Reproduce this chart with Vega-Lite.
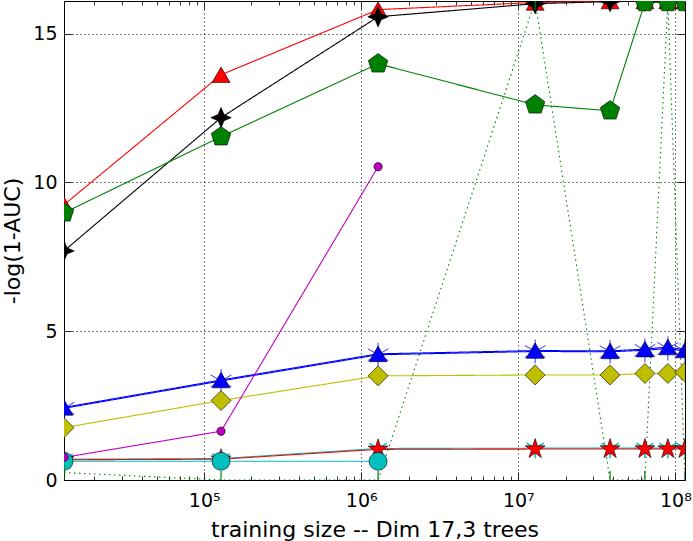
{
  "$schema": "https://vega.github.io/schema/vega-lite/v6.json",
  "width": 621,
  "height": 479,
  "autosize": {"type": "none"},
  "padding": {"left": 64, "top": 1, "right": 8, "bottom": 61},
  "background": "white",
  "config": {"view": {"stroke": "black", "strokeWidth": 1}, "font": "DejaVu Sans"},
  "data": {
    "values": [
      {"s": "rtri", "x": 12800, "y": 9.25}, {"s": "rtri", "x": 128000, "y": 13.62}, {"s": "rtri", "x": 1280000, "y": 15.81}, {"s": "rtri", "x": 12800000, "y": 16.05},
      {"s": "rtri", "x": 38400000, "y": 16.1}, {"s": "rtri", "x": 64000000, "y": 16.1}, {"s": "rtri", "x": 89600000, "y": 16.1}, {"s": "rtri", "x": 115200000, "y": 16.1},
      {"s": "kstar", "x": 12800, "y": 7.7}, {"s": "kstar", "x": 128000, "y": 12.18}, {"s": "kstar", "x": 1280000, "y": 15.57}, {"s": "kstar", "x": 12800000, "y": 16.01},
      {"s": "kstar", "x": 38400000, "y": 16.08}, {"s": "kstar", "x": 64000000, "y": 16.1}, {"s": "kstar", "x": 89600000, "y": 16.1}, {"s": "kstar", "x": 115200000, "y": 16.1},
      {"s": "gpent", "x": 12800, "y": 8.98}, {"s": "gpent", "x": 128000, "y": 11.54}, {"s": "gpent", "x": 1280000, "y": 13.99}, {"s": "gpent", "x": 12800000, "y": 12.61},
      {"s": "gpent", "x": 38400000, "y": 12.41}, {"s": "gpent", "x": 64000000, "y": 16.05}, {"s": "gpent", "x": 89600000, "y": 16.05}, {"s": "gpent", "x": 115200000, "y": 16.05},
      {"s": "gdot", "x": 12800, "y": 0.25}, {"s": "gdot", "x": 128000, "y": 0}, {"s": "gdot", "x": 1280000, "y": 0}, {"s": "gdot", "x": 12800000, "y": 16.1},
      {"s": "gdot", "x": 38400000, "y": 0}, {"s": "gdot", "x": 64000000, "y": 0}, {"s": "gdot", "x": 89600000, "y": 16.1}, {"s": "gdot", "x": 115200000, "y": 0},
      {"s": "btri", "x": 12800, "y": 2.44}, {"s": "btri", "x": 128000, "y": 3.36}, {"s": "btri", "x": 1280000, "y": 4.24}, {"s": "btri", "x": 12800000, "y": 4.35},
      {"s": "btri", "x": 38400000, "y": 4.34}, {"s": "btri", "x": 64000000, "y": 4.4}, {"s": "btri", "x": 89600000, "y": 4.47}, {"s": "btri", "x": 115200000, "y": 4.37},
      {"s": "bast", "x": 12800, "y": 2.41}, {"s": "bast", "x": 128000, "y": 3.33}, {"s": "bast", "x": 1280000, "y": 4.21}, {"s": "bast", "x": 12800000, "y": 4.32},
      {"s": "bast", "x": 38400000, "y": 4.31}, {"s": "bast", "x": 64000000, "y": 4.36}, {"s": "bast", "x": 89600000, "y": 4.42}, {"s": "bast", "x": 115200000, "y": 4.33},
      {"s": "ydia", "x": 12800, "y": 1.76}, {"s": "ydia", "x": 128000, "y": 2.67}, {"s": "ydia", "x": 1280000, "y": 3.5}, {"s": "ydia", "x": 12800000, "y": 3.53},
      {"s": "ydia", "x": 38400000, "y": 3.53}, {"s": "ydia", "x": 64000000, "y": 3.58}, {"s": "ydia", "x": 89600000, "y": 3.58}, {"s": "ydia", "x": 115200000, "y": 3.62},
      {"s": "mcirc", "x": 12800, "y": 0.76}, {"s": "mcirc", "x": 128000, "y": 1.64}, {"s": "mcirc", "x": 1280000, "y": 10.53},
      {"s": "ccirc", "x": 12800, "y": 0.63}, {"s": "ccirc", "x": 128000, "y": 0.63}, {"s": "ccirc", "x": 1280000, "y": 0.63},
      {"s": "ctri", "x": 12800, "y": 0.7}, {"s": "ctri", "x": 128000, "y": 0.72}, {"s": "ctri", "x": 1280000, "y": 1.06}, {"s": "ctri", "x": 12800000, "y": 1.07},
      {"s": "ctri", "x": 38400000, "y": 1.07}, {"s": "ctri", "x": 64000000, "y": 1.07}, {"s": "ctri", "x": 89600000, "y": 1.07}, {"s": "ctri", "x": 115200000, "y": 1.07},
      {"s": "rstar", "x": 12800, "y": 0.68}, {"s": "rstar", "x": 128000, "y": 0.7}, {"s": "rstar", "x": 1280000, "y": 1.03}, {"s": "rstar", "x": 12800000, "y": 1.04},
      {"s": "rstar", "x": 38400000, "y": 1.04}, {"s": "rstar", "x": 64000000, "y": 1.04}, {"s": "rstar", "x": 89600000, "y": 1.04}, {"s": "rstar", "x": 115200000, "y": 1.04}
    ]
  },
  "encoding": {
    "x": {"field": "x", "type": "quantitative", "scale": {"type": "log", "domain": [12800, 115200000], "nice": false}, "axis": null},
    "y": {"field": "y", "type": "quantitative", "scale": {"domain": [0, 16.1], "nice": false, "zero": false}, "axis": null}
  },
  "layer": [
    {
      "mark": {"type": "line", "clip": true, "strokeWidth": 1.1},
      "encoding": {
        "x": {
          "field": "x", "type": "quantitative",
          "scale": {"type": "log", "domain": [12800, 115200000], "nice": false},
          "axis": {
            "orient": "bottom",
            "values": [20000, 30000, 40000, 50000, 60000, 70000, 80000, 90000, 100000, 200000, 300000, 400000, 500000, 600000, 700000, 800000, 900000, 1000000, 2000000, 3000000, 4000000, 5000000, 6000000, 7000000, 8000000, 9000000, 10000000, 20000000, 30000000, 40000000, 50000000, 60000000, 70000000, 80000000, 90000000, 100000000],
            "domain": false,
            "grid": true, "gridColor": "black", "gridDash": [1, 3], "gridWidth": 1,
            "gridOpacity": {"condition": {"test": "datum.value==100000||datum.value==1000000||datum.value==10000000||datum.value==100000000", "value": 1}, "value": 0},
            "tickColor": "black", "tickWidth": 0.8,
            "tickSize": {"condition": {"test": "datum.value==100000||datum.value==1000000||datum.value==10000000||datum.value==100000000", "value": -8}, "value": -4},
            "labelExpr": "datum.value==100000?'10⁵':datum.value==1000000?'10⁶':datum.value==10000000?'10⁷':datum.value==100000000?'10⁸':''",
            "labelFont": "DejaVu Sans", "labelFontSize": 19, "labelColor": "black", "labelOverlap": false, "labelFlush": false, "labelPadding": 19,
            "title": "training size -- Dim 17,3 trees", "titleFont": "DejaVu Sans", "titleFontSize": 22, "titleFontWeight": "normal", "titleColor": "black", "titlePadding": 5
          }
        },
        "y": {
          "field": "y", "type": "quantitative",
          "scale": {"domain": [0, 16.1], "nice": false, "zero": false},
          "axis": {
            "orient": "left",
            "values": [0, 5, 10, 15],
            "domain": false,
            "grid": true, "gridColor": "black", "gridDash": [1, 3], "gridWidth": 1,
            "tickColor": "black", "tickWidth": 0.8, "tickSize": -8,
            "labelFont": "DejaVu Sans", "labelFontSize": 19, "labelColor": "black", "labelPadding": 15,
            "title": "-log(1-AUC)", "titleFont": "DejaVu Sans", "titleFontSize": 22, "titleFontWeight": "normal", "titleColor": "black", "titlePadding": 8
          }
        },
        "color": {
          "field": "s", "type": "nominal", "legend": null,
          "scale": {
            "domain": ["gdot", "rstar", "ctri", "ccirc", "mcirc", "ydia", "bast", "btri", "gpent", "kstar", "rtri"],
            "range": ["#008000", "#ff0000", "#00bfbf", "#00bfbf", "#bf00bf", "#bfbf00", "#0000ff", "#0000ff", "#008000", "#000000", "#ff0000"]
          }
        },
        "strokeDash": {"condition": {"test": "datum.s==='gdot'", "value": [1.5, 3.5]}, "value": [1, 0]}
      }
    },
    {
      "transform": [{"filter": "datum.s==='bast'"}],
      "mark": {"type": "point", "shape": "M-0.866,-0.5L0.866,0.5M0.866,-0.5L-0.866,0.5M0,-1L0,1", "size": 576, "filled": false, "stroke": "#0000ff", "strokeWidth": 0.8, "opacity": 1, "clip": true},
      "encoding": {
        "x": {
          "field": "x", "type": "quantitative",
          "scale": {"type": "log", "domain": [12800, 115200000], "nice": false},
          "axis": {
            "orient": "top",
            "values": [20000, 30000, 40000, 50000, 60000, 70000, 80000, 90000, 100000, 200000, 300000, 400000, 500000, 600000, 700000, 800000, 900000, 1000000, 2000000, 3000000, 4000000, 5000000, 6000000, 7000000, 8000000, 9000000, 10000000, 20000000, 30000000, 40000000, 50000000, 60000000, 70000000, 80000000, 90000000, 100000000],
            "domain": false, "grid": false, "labels": false, "title": null,
            "tickColor": "black", "tickWidth": 0.8,
            "tickSize": {"condition": {"test": "datum.value==100000||datum.value==1000000||datum.value==10000000||datum.value==100000000", "value": -8}, "value": -4}
          }
        },
        "y": {
          "field": "y", "type": "quantitative",
          "scale": {"domain": [0, 16.1], "nice": false, "zero": false},
          "axis": {"orient": "right", "values": [0, 5, 10, 15], "domain": false, "grid": false, "labels": false, "title": null, "tickColor": "black", "tickWidth": 0.8, "tickSize": -8}
        }
      }
    },
    {
      "transform": [{"filter": "datum.s==='ctri'"}],
      "mark": {"type": "point", "shape": "M0,0L0,1M0,0L-0.866,-0.5M0,0L0.866,-0.5", "size": 400, "filled": false, "stroke": "#00bfbf", "strokeWidth": 1.5, "opacity": 1, "clip": true}
    },
    {
      "transform": [{"filter": "datum.s==='rstar'"}],
      "mark": {"type": "point", "shape": "M0,-1L0.225,-0.309L0.951,-0.309L0.363,0.118L0.588,0.809L0,0.382L-0.588,0.809L-0.363,0.118L-0.951,-0.309L-0.225,-0.309Z", "size": 441, "filled": true, "fill": "#ff0000", "stroke": "black", "strokeWidth": 0.6, "opacity": 1, "clip": true}
    },
    {
      "transform": [{"filter": "datum.s==='ccirc'"}],
      "mark": {"type": "point", "shape": "circle", "size": 324, "filled": true, "fill": "#00bfbf", "stroke": "black", "strokeWidth": 0.6, "opacity": 1, "clip": true}
    },
    {
      "transform": [{"filter": "datum.s==='mcirc'"}],
      "mark": {"type": "point", "shape": "circle", "size": 70, "filled": true, "fill": "#bf00bf", "stroke": "black", "strokeWidth": 0.6, "opacity": 1, "clip": true}
    },
    {
      "transform": [{"filter": "datum.s==='ydia'"}],
      "mark": {"type": "point", "shape": "diamond", "size": 400, "filled": true, "fill": "#bfbf00", "stroke": "black", "strokeWidth": 0.6, "opacity": 1, "clip": true}
    },
    {
      "transform": [{"filter": "datum.s==='btri'"}],
      "mark": {"type": "point", "shape": "triangle-up", "size": 324, "filled": true, "fill": "#0000ff", "stroke": "black", "strokeWidth": 0.6, "opacity": 1, "clip": true}
    },
    {
      "transform": [{"filter": "datum.s==='rtri'"}],
      "mark": {"type": "point", "shape": "triangle-up", "size": 324, "filled": true, "fill": "#ff0000", "stroke": "black", "strokeWidth": 0.6, "opacity": 1, "clip": true}
    },
    {
      "transform": [{"filter": "datum.s==='kstar'"}],
      "mark": {"type": "point", "shape": "M0,-1L0.3,-0.3L1,0L0.3,0.3L0,1L-0.3,0.3L-1,0L-0.3,-0.3Z", "size": 420, "filled": true, "fill": "#000000", "stroke": "black", "strokeWidth": 0.6, "opacity": 1, "clip": true}
    },
    {
      "transform": [{"filter": "datum.s==='gpent'"}],
      "mark": {"type": "point", "shape": "M0,-1L0.951,-0.309L0.588,0.809L-0.588,0.809L-0.951,-0.309Z", "size": 420, "filled": true, "fill": "#008000", "stroke": "black", "strokeWidth": 0.6, "opacity": 1, "clip": true}
    },
    {
      "transform": [{"filter": "datum.s==='gdot'"}],
      "mark": {"type": "point", "shape": "M0,-1L0,1", "size": 324, "filled": false, "stroke": "#008000", "strokeWidth": 1.2, "opacity": 1, "clip": true}
    }
  ],
  "resolve": {"axis": {"x": "independent", "y": "independent"}}
}
